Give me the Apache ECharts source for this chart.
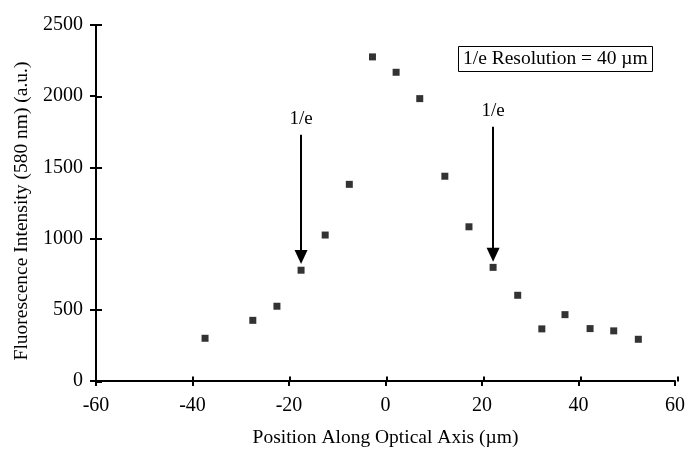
<!DOCTYPE html>
<html>
<head>
<meta charset="utf-8">
<script src="https://cdn.jsdelivr.net/npm/echarts@6/dist/echarts.min.js"></script>
<style>html,body{margin:0;padding:0;background:#fff;}#c{width:688px;height:453px;}</style>
</head>
<body>
<div id="c"></div>
<script>
// Data
var positions = [-37.4, -27.5, -22.5, -17.5, -12.5, -7.5, -2.7, 2.2, 7.1, 12.3, 17.3, 22.3, 27.4, 32.4, 37.2, 42.4, 47.3, 52.4];
var intensity = [300, 426, 525, 778, 1025, 1381, 2276, 2168, 1983, 1438, 1083, 798, 602, 366, 466, 368, 352, 293];
var xTicks = [-60, -40, -20, 0, 20, 40, 60];
var yTicks = [0, 500, 1000, 1500, 2000, 2500];
var arrowX = [-17.5, 22.3];
var arrowTop = [1730, 1785];
var arrowTip = [870, 887];
var arrowLabel = '1/e';
var boxText = '1/e Resolution = 40 \u00b5m';
var xTitle = 'Position Along Optical Axis (\u00b5m)';
var yTitle = 'Fluorescence Intensity (580 nm) (a.u.)';

var FONT = 'Liberation Serif';
var pts = positions.map(function (x, i) { return [x, intensity[i]]; });
var arrows = arrowX.map(function (x, i) {
  return [{ coord: [x, arrowTop[i]] }, { coord: [x, arrowTip[i]] }];
});
var plain = function (v) { return String(v); };

var chart = echarts.init(document.getElementById('c'));
var gridBox = { left: 96, right: 10, top: 25, bottom: 71.5 };
var axisCommonX = { type: 'value', min: xTicks[0], max: xTicks[xTicks.length - 1], interval: 20 };
var axisCommonY = { type: 'value', min: yTicks[0], max: yTicks[yTicks.length - 1], interval: 500 };
chart.setOption({
  animation: false,
  backgroundColor: '#fff',
  title: {
    text: boxText, left: 458, top: 46,
    borderColor: '#000', borderWidth: 1, padding: [3, 5, 3, 5],
    textStyle: { fontFamily: FONT, fontSize: 19.5, fontWeight: 'normal', color: '#000' }
  },
  grid: [Object.assign({}, gridBox), Object.assign({}, gridBox)],
  xAxis: [
    Object.assign({}, axisCommonX, {
      gridIndex: 0,
      name: xTitle, nameLocation: 'middle', nameGap: 47,
      nameTextStyle: { fontFamily: FONT, fontSize: 19.5, color: '#000' },
      axisLine: { onZero: false, lineStyle: { color: '#000', width: 2 } },
      axisTick: { length: 5, lineStyle: { color: '#000', width: 2 } },
      axisLabel: { margin: 15, fontFamily: FONT, fontSize: 20, color: '#000', formatter: plain },
      splitLine: { show: false }
    }),
    Object.assign({}, axisCommonX, {
      gridIndex: 1,
      position: 'bottom',
      axisLine: { show: false, onZero: false },
      axisTick: { show: true, inside: true, length: 5, lineStyle: { color: '#000', width: 2 } },
      axisLabel: { show: false },
      splitLine: { show: false }
    })
  ],
  yAxis: [
    Object.assign({}, axisCommonY, {
      gridIndex: 0,
      name: yTitle, nameLocation: 'middle', nameGap: 61,
      nameTextStyle: { fontFamily: FONT, fontSize: 19.5, color: '#000', padding: [0, 16, 0, 0] },
      axisLine: { onZero: false, lineStyle: { color: '#000', width: 2 } },
      axisTick: { length: 6, lineStyle: { color: '#000', width: 2 } },
      axisLabel: { margin: 13, fontFamily: FONT, fontSize: 20, color: '#000', formatter: plain },
      splitLine: { show: false }
    }),
    Object.assign({}, axisCommonY, {
      gridIndex: 1,
      position: 'left',
      axisLine: { show: false, onZero: false },
      axisTick: { show: true, inside: true, length: 6, lineStyle: { color: '#000', width: 2 } },
      axisLabel: { show: false },
      splitLine: { show: false }
    })
  ],
  series: [{
    type: 'scatter',
    xAxisIndex: 0, yAxisIndex: 0,
    data: pts,
    symbol: 'rect',
    symbolSize: 7,
    itemStyle: { color: '#000' },
    markLine: {
      silent: true,
      symbol: ['none', 'triangle'],
      symbolSize: [13, 14],
      lineStyle: { color: '#000', width: 2, type: 'solid' },
      label: {
        show: true, position: 'start', distance: 6,
        formatter: arrowLabel,
        fontFamily: FONT, fontSize: 19, color: '#000'
      },
      data: arrows
    }
  }, {
    type: 'scatter',
    xAxisIndex: 1, yAxisIndex: 1,
    data: [],
    silent: true
  }]
});
</script>
</body>
</html>
